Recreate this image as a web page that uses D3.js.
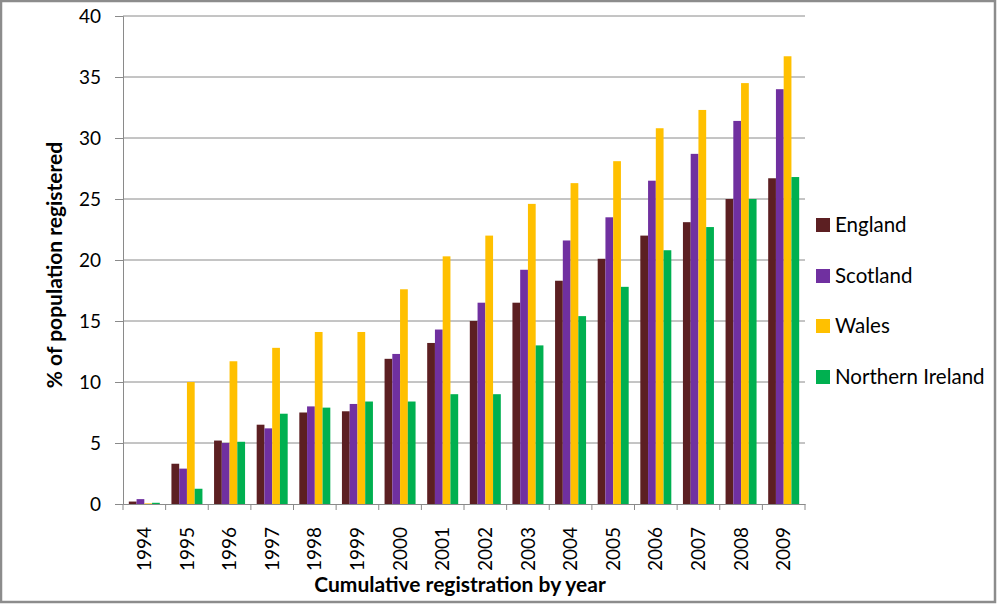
<!DOCTYPE html>
<html>
<head>
<meta charset="utf-8">
<script src="https://cdn.jsdelivr.net/npm/d3@7"></script>
<style>
  html, body { margin: 0; padding: 0; background: #fff; }
  svg { display: block; }
  text { font-family: Lato, "Open Sans", sans-serif; fill: #000; }
</style>
</head>
<body>
<svg id="chart" width="997" height="604"></svg>
<script>
const years = ["1994","1995","1996","1997","1998","1999","2000","2001","2002","2003","2004","2005","2006","2007","2008","2009"];
const seriesNames = ["England","Scotland","Wales","Northern Ireland"];
const england  = [0.2, 3.3, 5.2, 6.5, 7.5, 7.6, 11.9, 13.2, 15.0, 16.5, 18.3, 20.1, 22.0, 23.1, 25.0, 26.7];
const scotland = [0.4, 2.9, 5.0, 6.2, 8.0, 8.2, 12.3, 14.3, 16.5, 19.2, 21.6, 23.5, 26.5, 28.7, 31.4, 34.0];
const wales    = [0.05, 10.0, 11.7, 12.8, 14.1, 14.1, 17.6, 20.3, 22.0, 24.6, 26.3, 28.1, 30.8, 32.3, 34.5, 36.7];
const nireland = [0.1, 1.25, 5.1, 7.4, 7.9, 8.4, 8.4, 9.0, 9.0, 13.0, 15.4, 17.8, 20.8, 22.7, 25.0, 26.8];
const yTicks = [0, 5, 10, 15, 20, 25, 30, 35, 40];
const colors = ["#5C1F22", "#7030A0", "#FFC000", "#00B050"];
const yTitle = "% of population  registered";
const xTitle = "Cumulative registration by year";

const seriesValues = [england, scotland, wales, nireland];
const svg = d3.select("#chart");

// outer frame
svg.append("rect").attr("x", 1).attr("y", 1).attr("width", 994).attr("height", 601)
  .attr("fill", "#fff").attr("stroke", "#8c8c8c").attr("stroke-width", 2.5);

const pLeft = 123, pRight = 805, pTop = 16, pBottom = 504;
const x0 = d3.scaleBand().domain(years).range([pLeft, pRight]).padding(0);
const x1 = d3.scaleBand().domain(seriesNames).range([0, x0.bandwidth()]).paddingInner(0).paddingOuter(0.75);
const y = d3.scaleLinear().domain([0, 40]).range([pBottom, pTop]);

// gridlines
svg.append("g").selectAll("line").data(yTicks.filter(d => d > 0)).join("line")
  .attr("x1", pLeft).attr("x2", pRight)
  .attr("y1", d => y(d)).attr("y2", d => y(d))
  .attr("stroke", "#8a8a8a").attr("stroke-width", 1);

// bars
const groups = svg.append("g").selectAll("g").data(years).join("g")
  .attr("transform", d => `translate(${x0(d)},0)`);
groups.selectAll("rect").data((yr, i) => seriesNames.map((s, k) => ({s, k, v: seriesValues[k][i]})))
  .join("rect")
  .attr("x", d => x1(d.s))
  .attr("width", x1.bandwidth())
  .attr("y", d => y(d.v))
  .attr("height", d => y(0) - y(d.v))
  .attr("fill", d => colors[d.k]);

// y axis
const yAxis = d3.axisLeft(y).tickValues(yTicks).tickSize(8).tickPadding(14);
const yg = svg.append("g").attr("transform", `translate(${pLeft},0)`).call(yAxis);
yg.select(".domain").attr("stroke", "#8a8a8a");
yg.selectAll(".tick line").attr("stroke", "#8a8a8a");
yg.selectAll(".tick text").style("font-size", "19px").style("font-family", "Lato, sans-serif").attr("fill", "#222");

// x axis
const xAxis = d3.axisBottom(x0).tickSize(0).tickPadding(0);
const xg = svg.append("g").attr("transform", `translate(0,${pBottom})`).call(xAxis);
xg.select(".domain").attr("stroke", "#8a8a8a");
xg.selectAll(".tick text")
  .style("font-size", "19px").style("font-family", "Lato, sans-serif").attr("fill", "#222")
  .attr("transform", "rotate(-90)")
  .attr("text-anchor", "end")
  .attr("x", -23).attr("y", 0).attr("dy", "0.35em");
// x tick marks at category boundaries
const bounds = years.map(d => x0(d)).concat([pRight]);
xg.append("g").selectAll("line").data(bounds).join("line")
  .attr("x1", d => d).attr("x2", d => d).attr("y1", 0).attr("y2", 6)
  .attr("stroke", "#8a8a8a");

// axis titles
svg.append("text").attr("x", 460).attr("y", 592).attr("text-anchor", "middle")
  .style("font-size", "21px").style("font-weight", "bold").text(xTitle);
svg.append("text").attr("transform", "translate(62,265) rotate(-90)").attr("text-anchor", "middle")
  .style("font-size", "21px").style("font-weight", "bold").text(yTitle);

// legend
const legY = [225, 276, 326, 377];
const leg = svg.append("g").selectAll("g").data(seriesNames).join("g")
  .attr("transform", (d, i) => `translate(816,${legY[i]})`);
leg.append("rect").attr("x", 0).attr("y", -7).attr("width", 14).attr("height", 14)
  .attr("fill", (d, i) => colors[i]);
leg.append("text").attr("x", 19).attr("y", 0).attr("dy", "0.35em")
  .style("font-size", "20.5px").attr("fill", "#222").text(d => d);
</script>
</body>
</html>
